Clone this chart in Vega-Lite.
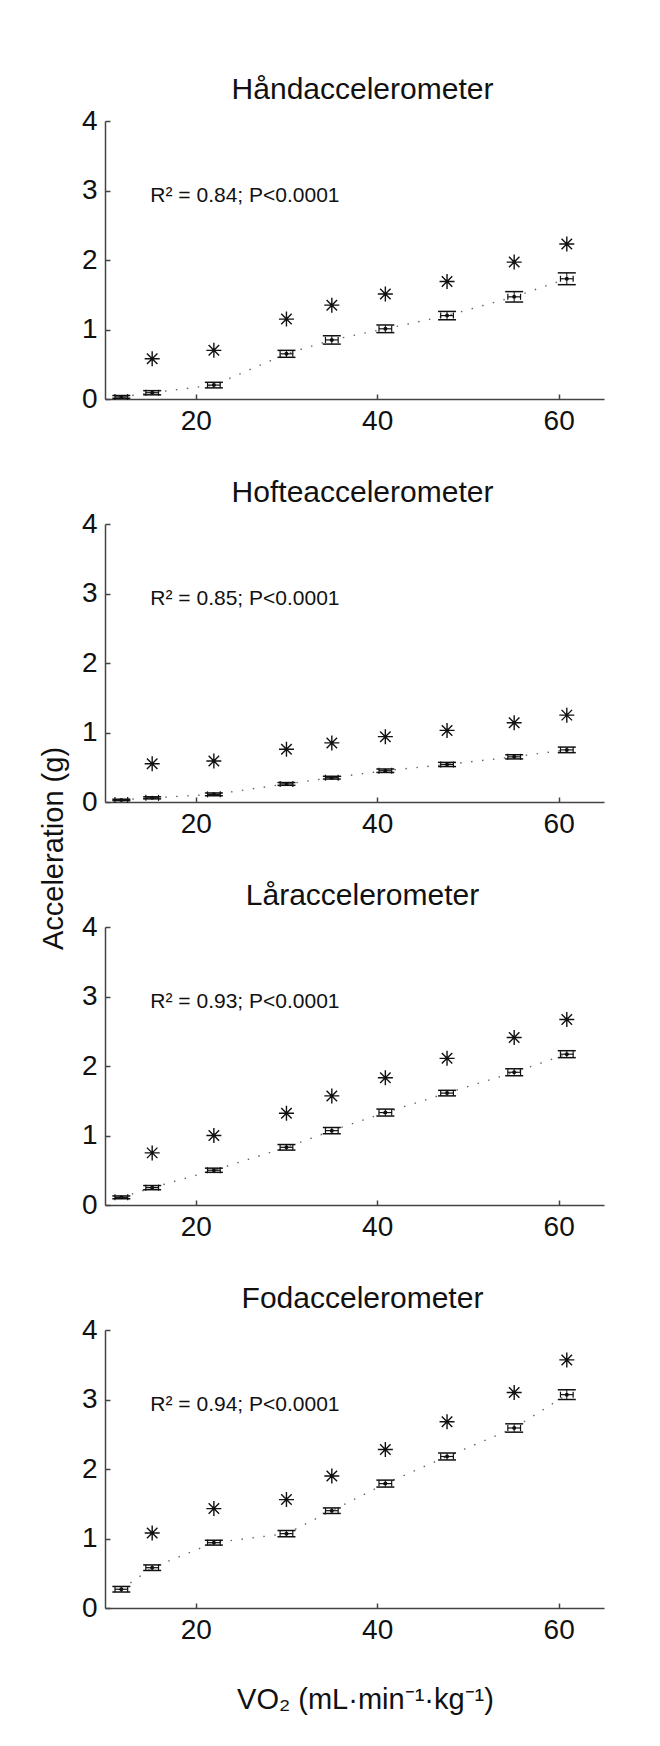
{
  "$schema": "https://vega.github.io/schema/vega-lite/v6.json",
  "padding": {"left": 39, "top": 75, "right": 5, "bottom": 5},
  "bounds": "flush",
  "spacing": 125,
  "config": {
    "font": "Liberation Sans",
    "view": {"stroke": null},
    "axis": {"grid": false, "domainColor": "#444", "domainWidth": 1.5, "tickColor": "#444", "tickWidth": 1.5, "tickSize": -5, "labelFontSize": 28, "labelColor": "#111", "labelFont": "Liberation Sans"},
    "axisY": {"labelPadding": 13},
    "axisX": {"labelPadding": 13},
    "title": {"fontSize": 30, "fontWeight": "normal", "color": "#111", "anchor": "middle", "dx": 8, "offset": 2, "baseline": "alphabetic", "font": "Liberation Sans"}
  },
  "datasets": {
    "H": [
      {"x": 11.8, "xlo": 11.1, "xhi": 12.5, "y": 0.03, "ylo": 0.01, "yhi": 0.05, "ast": null},
      {"x": 15.2, "xlo": 14.5, "xhi": 15.9, "y": 0.09, "ylo": 0.06, "yhi": 0.12, "ast": 0.58},
      {"x": 22, "xlo": 21.3, "xhi": 22.7, "y": 0.2, "ylo": 0.16, "yhi": 0.24, "ast": 0.7},
      {"x": 30, "xlo": 29.3, "xhi": 30.7, "y": 0.65, "ylo": 0.6, "yhi": 0.7, "ast": 1.15},
      {"x": 35, "xlo": 34.3, "xhi": 35.7, "y": 0.85, "ylo": 0.79, "yhi": 0.91, "ast": 1.35},
      {"x": 40.9, "xlo": 40.2, "xhi": 41.6, "y": 1.01, "ylo": 0.955, "yhi": 1.065, "ast": 1.51},
      {"x": 47.7, "xlo": 47, "xhi": 48.4, "y": 1.2, "ylo": 1.14, "yhi": 1.26, "ast": 1.69},
      {"x": 55.1, "xlo": 54.4, "xhi": 55.8, "y": 1.47, "ylo": 1.395, "yhi": 1.545, "ast": 1.97},
      {"x": 60.9, "xlo": 60.2, "xhi": 61.6, "y": 1.73, "ylo": 1.645, "yhi": 1.815, "ast": 2.23}
    ],
    "O": [
      {"x": 11.8, "xlo": 11.1, "xhi": 12.5, "y": 0.03, "ylo": 0.02, "yhi": 0.04, "ast": null},
      {"x": 15.2, "xlo": 14.5, "xhi": 15.9, "y": 0.06, "ylo": 0.045, "yhi": 0.075, "ast": 0.55},
      {"x": 22, "xlo": 21.3, "xhi": 22.7, "y": 0.11, "ylo": 0.09, "yhi": 0.13, "ast": 0.59},
      {"x": 30, "xlo": 29.3, "xhi": 30.7, "y": 0.26, "ylo": 0.24, "yhi": 0.28, "ast": 0.76},
      {"x": 35, "xlo": 34.3, "xhi": 35.7, "y": 0.35, "ylo": 0.33, "yhi": 0.37, "ast": 0.85},
      {"x": 40.9, "xlo": 40.2, "xhi": 41.6, "y": 0.45, "ylo": 0.425, "yhi": 0.475, "ast": 0.94},
      {"x": 47.7, "xlo": 47, "xhi": 48.4, "y": 0.54, "ylo": 0.51, "yhi": 0.57, "ast": 1.03},
      {"x": 55.1, "xlo": 54.4, "xhi": 55.8, "y": 0.65, "ylo": 0.62, "yhi": 0.68, "ast": 1.14},
      {"x": 60.9, "xlo": 60.2, "xhi": 61.6, "y": 0.75, "ylo": 0.71, "yhi": 0.79, "ast": 1.25}
    ],
    "L": [
      {"x": 11.8, "xlo": 11.1, "xhi": 12.5, "y": 0.11, "ylo": 0.09, "yhi": 0.13, "ast": null},
      {"x": 15.2, "xlo": 14.5, "xhi": 15.9, "y": 0.25, "ylo": 0.22, "yhi": 0.28, "ast": 0.75},
      {"x": 22, "xlo": 21.3, "xhi": 22.7, "y": 0.5, "ylo": 0.47, "yhi": 0.53, "ast": 1.0},
      {"x": 30, "xlo": 29.3, "xhi": 30.7, "y": 0.83, "ylo": 0.79, "yhi": 0.87, "ast": 1.32},
      {"x": 35, "xlo": 34.3, "xhi": 35.7, "y": 1.07, "ylo": 1.025, "yhi": 1.115, "ast": 1.57},
      {"x": 40.9, "xlo": 40.2, "xhi": 41.6, "y": 1.33, "ylo": 1.28, "yhi": 1.38, "ast": 1.83},
      {"x": 47.7, "xlo": 47, "xhi": 48.4, "y": 1.61, "ylo": 1.57, "yhi": 1.65, "ast": 2.11},
      {"x": 55.1, "xlo": 54.4, "xhi": 55.8, "y": 1.91, "ylo": 1.86, "yhi": 1.96, "ast": 2.41},
      {"x": 60.9, "xlo": 60.2, "xhi": 61.6, "y": 2.17, "ylo": 2.12, "yhi": 2.22, "ast": 2.67}
    ],
    "F": [
      {"x": 11.8, "xlo": 11.1, "xhi": 12.5, "y": 0.27, "ylo": 0.23, "yhi": 0.31, "ast": null},
      {"x": 15.2, "xlo": 14.5, "xhi": 15.9, "y": 0.58, "ylo": 0.54, "yhi": 0.62, "ast": 1.08},
      {"x": 22, "xlo": 21.3, "xhi": 22.7, "y": 0.94, "ylo": 0.905, "yhi": 0.975, "ast": 1.43},
      {"x": 30, "xlo": 29.3, "xhi": 30.7, "y": 1.07, "ylo": 1.025, "yhi": 1.115, "ast": 1.56},
      {"x": 35, "xlo": 34.3, "xhi": 35.7, "y": 1.4, "ylo": 1.36, "yhi": 1.44, "ast": 1.9},
      {"x": 40.9, "xlo": 40.2, "xhi": 41.6, "y": 1.79, "ylo": 1.74, "yhi": 1.84, "ast": 2.28},
      {"x": 47.7, "xlo": 47, "xhi": 48.4, "y": 2.18, "ylo": 2.13, "yhi": 2.23, "ast": 2.68},
      {"x": 55.1, "xlo": 54.4, "xhi": 55.8, "y": 2.59, "ylo": 2.53, "yhi": 2.65, "ast": 3.1},
      {"x": 60.9, "xlo": 60.2, "xhi": 61.6, "y": 3.07, "ylo": 3.0, "yhi": 3.14, "ast": 3.57}
    ]
  },
  "vconcat": [
    {
      "width": 499, "height": 278,
      "title": "Håndaccelerometer",
      "data": {"name": "H"},
      "layer": [
        {"mark": {"type": "line", "color": "#666", "strokeWidth": 1.4, "strokeDash": [1.5, 9.5]},
         "encoding": {"x": {"field": "x", "type": "quantitative", "title": null, "scale": {"domain": [10, 65], "nice": false, "zero": false}, "axis": {"values": [20, 40, 60]}},
                      "y": {"field": "y", "type": "quantitative", "title": null, "scale": {"domain": [0, 4], "nice": false, "zero": false}, "axis": {"values": [0, 1, 2, 3, 4], "format": "d"}}}},
        {"mark": {"type": "rule", "color": "#111", "strokeWidth": 1}, "encoding": {"x": {"field": "x", "type": "quantitative", "title": null}, "y": {"field": "ylo", "type": "quantitative", "title": null}, "y2": {"field": "yhi"}}},
        {"mark": {"type": "tick", "orient": "horizontal", "size": 18, "thickness": 1.5, "color": "#111", "opacity": 1}, "encoding": {"x": {"field": "x", "type": "quantitative", "title": null}, "y": {"field": "ylo", "type": "quantitative", "title": null}}},
        {"mark": {"type": "tick", "orient": "horizontal", "size": 18, "thickness": 1.5, "color": "#111", "opacity": 1}, "encoding": {"x": {"field": "x", "type": "quantitative", "title": null}, "y": {"field": "yhi", "type": "quantitative", "title": null}}},
        {"mark": {"type": "rule", "color": "#111", "strokeWidth": 1.2}, "encoding": {"x": {"field": "xlo", "type": "quantitative", "title": null}, "x2": {"field": "xhi"}, "y": {"field": "y", "type": "quantitative", "title": null}}},
        {"mark": {"type": "tick", "orient": "vertical", "size": 6, "thickness": 1.2, "color": "#111", "opacity": 1}, "encoding": {"x": {"field": "xlo", "type": "quantitative", "title": null}, "y": {"field": "y", "type": "quantitative", "title": null}}},
        {"mark": {"type": "tick", "orient": "vertical", "size": 6, "thickness": 1.2, "color": "#111", "opacity": 1}, "encoding": {"x": {"field": "xhi", "type": "quantitative", "title": null}, "y": {"field": "y", "type": "quantitative", "title": null}}},
        {"mark": {"type": "point", "shape": "circle", "filled": true, "size": 16, "color": "#111", "opacity": 1}, "encoding": {"x": {"field": "x", "type": "quantitative", "title": null}, "y": {"field": "y", "type": "quantitative", "title": null}}},
        {"mark": {"type": "point", "shape": "M-1,0H1M0,-1V1M-0.7,-0.7L0.7,0.7M-0.7,0.7L0.7,-0.7", "filled": false, "size": 225, "strokeWidth": 1.4, "color": "#111", "opacity": 1}, "encoding": {"x": {"field": "x", "type": "quantitative", "title": null}, "y": {"field": "ast", "type": "quantitative", "title": null}}},
        {"data": {"values": [{"x": 15, "y": 3, "t": "R² = 0.84; P<0.0001"}]}, "mark": {"type": "text", "align": "left", "baseline": "middle", "fontSize": 21, "color": "#111", "dy": 5}, "encoding": {"x": {"field": "x", "type": "quantitative", "title": null}, "y": {"field": "y", "type": "quantitative", "title": null}, "text": {"field": "t"}}}
      ]
    },
    {
      "width": 499, "height": 278,
      "title": "Hofteaccelerometer",
      "data": {"name": "O"},
      "layer": [
        {"mark": {"type": "line", "color": "#666", "strokeWidth": 1.4, "strokeDash": [1.5, 9.5]},
         "encoding": {"x": {"field": "x", "type": "quantitative", "title": null, "scale": {"domain": [10, 65], "nice": false, "zero": false}, "axis": {"values": [20, 40, 60]}},
                      "y": {"field": "y", "type": "quantitative", "title": "Acceleration (g)", "scale": {"domain": [0, 4], "nice": false, "zero": false}, "axis": {"values": [0, 1, 2, 3, 4], "format": "d", "titleFontSize": 29, "titleFontWeight": "normal", "titleColor": "#111", "titleFont": "Liberation Sans", "titleX": -43, "titleY": 324, "titleAngle": -90, "titleBaseline": "alphabetic", "titleAlign": "center"}}}},
        {"mark": {"type": "rule", "color": "#111", "strokeWidth": 1}, "encoding": {"x": {"field": "x", "type": "quantitative", "title": null}, "y": {"field": "ylo", "type": "quantitative", "title": "Acceleration (g)"}, "y2": {"field": "yhi"}}},
        {"mark": {"type": "tick", "orient": "horizontal", "size": 18, "thickness": 1.5, "color": "#111", "opacity": 1}, "encoding": {"x": {"field": "x", "type": "quantitative", "title": null}, "y": {"field": "ylo", "type": "quantitative", "title": "Acceleration (g)"}}},
        {"mark": {"type": "tick", "orient": "horizontal", "size": 18, "thickness": 1.5, "color": "#111", "opacity": 1}, "encoding": {"x": {"field": "x", "type": "quantitative", "title": null}, "y": {"field": "yhi", "type": "quantitative", "title": "Acceleration (g)"}}},
        {"mark": {"type": "rule", "color": "#111", "strokeWidth": 1.2}, "encoding": {"x": {"field": "xlo", "type": "quantitative", "title": null}, "x2": {"field": "xhi"}, "y": {"field": "y", "type": "quantitative", "title": "Acceleration (g)"}}},
        {"mark": {"type": "tick", "orient": "vertical", "size": 6, "thickness": 1.2, "color": "#111", "opacity": 1}, "encoding": {"x": {"field": "xlo", "type": "quantitative", "title": null}, "y": {"field": "y", "type": "quantitative", "title": "Acceleration (g)"}}},
        {"mark": {"type": "tick", "orient": "vertical", "size": 6, "thickness": 1.2, "color": "#111", "opacity": 1}, "encoding": {"x": {"field": "xhi", "type": "quantitative", "title": null}, "y": {"field": "y", "type": "quantitative", "title": "Acceleration (g)"}}},
        {"mark": {"type": "point", "shape": "circle", "filled": true, "size": 16, "color": "#111", "opacity": 1}, "encoding": {"x": {"field": "x", "type": "quantitative", "title": null}, "y": {"field": "y", "type": "quantitative", "title": "Acceleration (g)"}}},
        {"mark": {"type": "point", "shape": "M-1,0H1M0,-1V1M-0.7,-0.7L0.7,0.7M-0.7,0.7L0.7,-0.7", "filled": false, "size": 225, "strokeWidth": 1.4, "color": "#111", "opacity": 1}, "encoding": {"x": {"field": "x", "type": "quantitative", "title": null}, "y": {"field": "ast", "type": "quantitative", "title": "Acceleration (g)"}}},
        {"data": {"values": [{"x": 15, "y": 3, "t": "R² = 0.85; P<0.0001"}]}, "mark": {"type": "text", "align": "left", "baseline": "middle", "fontSize": 21, "color": "#111", "dy": 5}, "encoding": {"x": {"field": "x", "type": "quantitative", "title": null}, "y": {"field": "y", "type": "quantitative", "title": "Acceleration (g)"}, "text": {"field": "t"}}}
      ]
    },
    {
      "width": 499, "height": 278,
      "title": "Låraccelerometer",
      "data": {"name": "L"},
      "layer": [
        {"mark": {"type": "line", "color": "#666", "strokeWidth": 1.4, "strokeDash": [1.5, 9.5]},
         "encoding": {"x": {"field": "x", "type": "quantitative", "title": null, "scale": {"domain": [10, 65], "nice": false, "zero": false}, "axis": {"values": [20, 40, 60]}},
                      "y": {"field": "y", "type": "quantitative", "title": null, "scale": {"domain": [0, 4], "nice": false, "zero": false}, "axis": {"values": [0, 1, 2, 3, 4], "format": "d"}}}},
        {"mark": {"type": "rule", "color": "#111", "strokeWidth": 1}, "encoding": {"x": {"field": "x", "type": "quantitative", "title": null}, "y": {"field": "ylo", "type": "quantitative", "title": null}, "y2": {"field": "yhi"}}},
        {"mark": {"type": "tick", "orient": "horizontal", "size": 18, "thickness": 1.5, "color": "#111", "opacity": 1}, "encoding": {"x": {"field": "x", "type": "quantitative", "title": null}, "y": {"field": "ylo", "type": "quantitative", "title": null}}},
        {"mark": {"type": "tick", "orient": "horizontal", "size": 18, "thickness": 1.5, "color": "#111", "opacity": 1}, "encoding": {"x": {"field": "x", "type": "quantitative", "title": null}, "y": {"field": "yhi", "type": "quantitative", "title": null}}},
        {"mark": {"type": "rule", "color": "#111", "strokeWidth": 1.2}, "encoding": {"x": {"field": "xlo", "type": "quantitative", "title": null}, "x2": {"field": "xhi"}, "y": {"field": "y", "type": "quantitative", "title": null}}},
        {"mark": {"type": "tick", "orient": "vertical", "size": 6, "thickness": 1.2, "color": "#111", "opacity": 1}, "encoding": {"x": {"field": "xlo", "type": "quantitative", "title": null}, "y": {"field": "y", "type": "quantitative", "title": null}}},
        {"mark": {"type": "tick", "orient": "vertical", "size": 6, "thickness": 1.2, "color": "#111", "opacity": 1}, "encoding": {"x": {"field": "xhi", "type": "quantitative", "title": null}, "y": {"field": "y", "type": "quantitative", "title": null}}},
        {"mark": {"type": "point", "shape": "circle", "filled": true, "size": 16, "color": "#111", "opacity": 1}, "encoding": {"x": {"field": "x", "type": "quantitative", "title": null}, "y": {"field": "y", "type": "quantitative", "title": null}}},
        {"mark": {"type": "point", "shape": "M-1,0H1M0,-1V1M-0.7,-0.7L0.7,0.7M-0.7,0.7L0.7,-0.7", "filled": false, "size": 225, "strokeWidth": 1.4, "color": "#111", "opacity": 1}, "encoding": {"x": {"field": "x", "type": "quantitative", "title": null}, "y": {"field": "ast", "type": "quantitative", "title": null}}},
        {"data": {"values": [{"x": 15, "y": 3, "t": "R² = 0.93; P<0.0001"}]}, "mark": {"type": "text", "align": "left", "baseline": "middle", "fontSize": 21, "color": "#111", "dy": 5}, "encoding": {"x": {"field": "x", "type": "quantitative", "title": null}, "y": {"field": "y", "type": "quantitative", "title": null}, "text": {"field": "t"}}}
      ]
    },
    {
      "width": 499, "height": 278,
      "title": "Fodaccelerometer",
      "data": {"name": "F"},
      "layer": [
        {"mark": {"type": "line", "color": "#666", "strokeWidth": 1.4, "strokeDash": [1.5, 9.5]},
         "encoding": {"x": {"field": "x", "type": "quantitative", "title": "VO₂ (mL·min⁻¹·kg⁻¹)", "scale": {"domain": [10, 65], "nice": false, "zero": false}, "axis": {"values": [20, 40, 60], "titleFontSize": 29, "titleFontWeight": "normal", "titleColor": "#111", "titleFont": "Liberation Sans", "titleX": 260, "titleY": 100, "titleAlign": "center", "titleBaseline": "alphabetic"}},
                      "y": {"field": "y", "type": "quantitative", "title": null, "scale": {"domain": [0, 4], "nice": false, "zero": false}, "axis": {"values": [0, 1, 2, 3, 4], "format": "d"}}}},
        {"mark": {"type": "rule", "color": "#111", "strokeWidth": 1}, "encoding": {"x": {"field": "x", "type": "quantitative", "title": "VO₂ (mL·min⁻¹·kg⁻¹)"}, "y": {"field": "ylo", "type": "quantitative", "title": null}, "y2": {"field": "yhi"}}},
        {"mark": {"type": "tick", "orient": "horizontal", "size": 18, "thickness": 1.5, "color": "#111", "opacity": 1}, "encoding": {"x": {"field": "x", "type": "quantitative", "title": "VO₂ (mL·min⁻¹·kg⁻¹)"}, "y": {"field": "ylo", "type": "quantitative", "title": null}}},
        {"mark": {"type": "tick", "orient": "horizontal", "size": 18, "thickness": 1.5, "color": "#111", "opacity": 1}, "encoding": {"x": {"field": "x", "type": "quantitative", "title": "VO₂ (mL·min⁻¹·kg⁻¹)"}, "y": {"field": "yhi", "type": "quantitative", "title": null}}},
        {"mark": {"type": "rule", "color": "#111", "strokeWidth": 1.2}, "encoding": {"x": {"field": "xlo", "type": "quantitative", "title": "VO₂ (mL·min⁻¹·kg⁻¹)"}, "x2": {"field": "xhi"}, "y": {"field": "y", "type": "quantitative", "title": null}}},
        {"mark": {"type": "tick", "orient": "vertical", "size": 6, "thickness": 1.2, "color": "#111", "opacity": 1}, "encoding": {"x": {"field": "xlo", "type": "quantitative", "title": "VO₂ (mL·min⁻¹·kg⁻¹)"}, "y": {"field": "y", "type": "quantitative", "title": null}}},
        {"mark": {"type": "tick", "orient": "vertical", "size": 6, "thickness": 1.2, "color": "#111", "opacity": 1}, "encoding": {"x": {"field": "xhi", "type": "quantitative", "title": "VO₂ (mL·min⁻¹·kg⁻¹)"}, "y": {"field": "y", "type": "quantitative", "title": null}}},
        {"mark": {"type": "point", "shape": "circle", "filled": true, "size": 16, "color": "#111", "opacity": 1}, "encoding": {"x": {"field": "x", "type": "quantitative", "title": "VO₂ (mL·min⁻¹·kg⁻¹)"}, "y": {"field": "y", "type": "quantitative", "title": null}}},
        {"mark": {"type": "point", "shape": "M-1,0H1M0,-1V1M-0.7,-0.7L0.7,0.7M-0.7,0.7L0.7,-0.7", "filled": false, "size": 225, "strokeWidth": 1.4, "color": "#111", "opacity": 1}, "encoding": {"x": {"field": "x", "type": "quantitative", "title": "VO₂ (mL·min⁻¹·kg⁻¹)"}, "y": {"field": "ast", "type": "quantitative", "title": null}}},
        {"data": {"values": [{"x": 15, "y": 3, "t": "R² = 0.94; P<0.0001"}]}, "mark": {"type": "text", "align": "left", "baseline": "middle", "fontSize": 21, "color": "#111", "dy": 5}, "encoding": {"x": {"field": "x", "type": "quantitative", "title": "VO₂ (mL·min⁻¹·kg⁻¹)"}, "y": {"field": "y", "type": "quantitative", "title": null}, "text": {"field": "t"}}}
      ]
    }
  ]
}
